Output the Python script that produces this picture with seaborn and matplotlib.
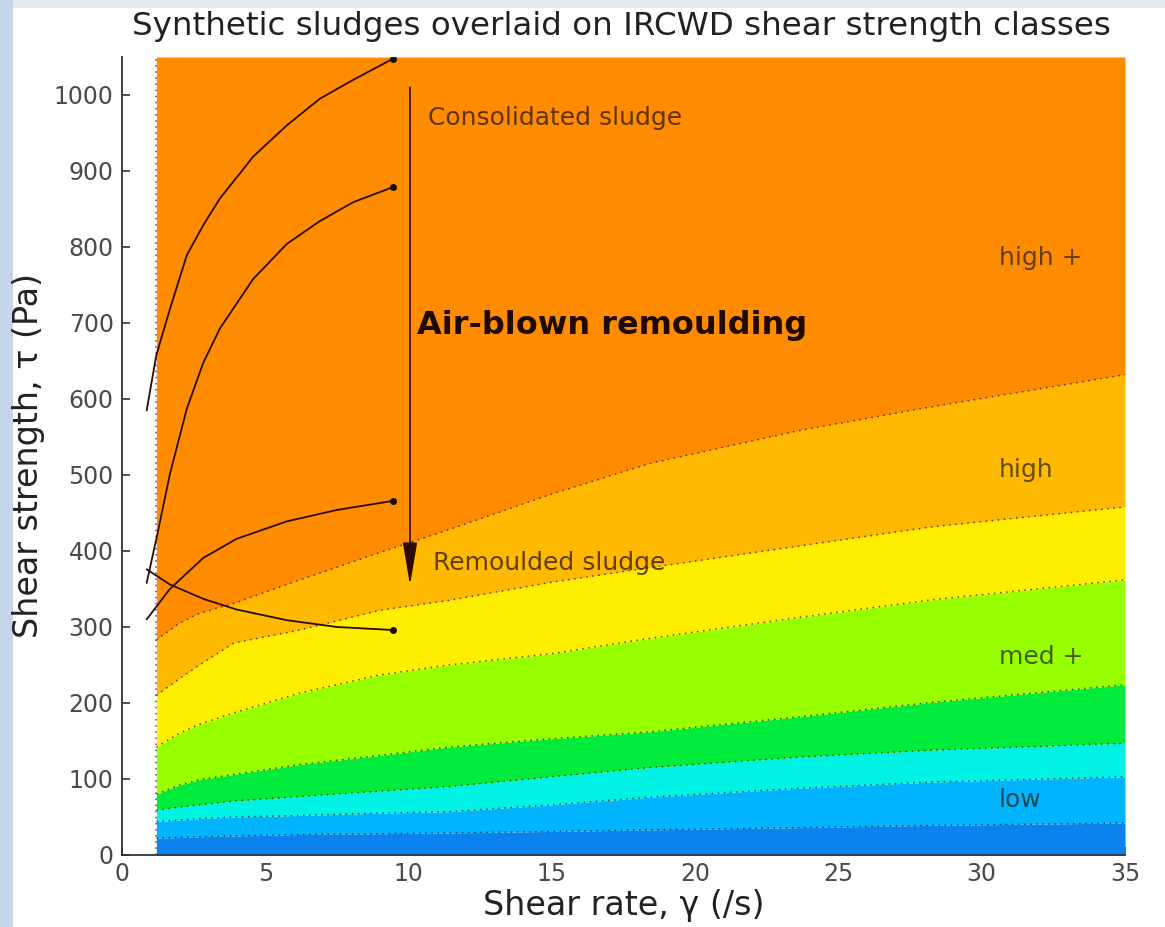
import matplotlib
matplotlib.use("Agg")
import matplotlib.pyplot as plt
from matplotlib.patches import Rectangle, FancyArrowPatch
import seaborn as sns
import numpy as np

# ---- shear strength class boundaries (Pa) versus shear rate (/s) ----
rate_grid = [1.2, 2.0, 2.7, 3.9, 6.2, 9.0, 11.4, 15.0, 18.4, 23.7, 28.3, 35.0]
bound_low1 = [22, 23, 24, 25, 27, 28, 29, 31, 33, 36, 39, 42]
bound_low2 = [44, 46, 48, 50, 52, 55, 57, 66, 76, 88, 96, 103]
bound_med1 = [59, 63, 66, 71, 77, 84, 90, 103, 115, 129, 138, 147]
bound_med2 = [80, 92, 99, 106, 119, 131, 142, 153, 162, 182, 201, 224]
bound_medp = [142, 160, 172, 187, 213, 237, 250, 265, 285, 313, 336, 362]
bound_high = [210, 232, 250, 279, 296, 322, 335, 359, 378, 407, 432, 458]
bound_highp = [283, 305, 318, 331, 362, 398, 428, 475, 515, 559, 590, 632]
tau_max = 1050

band_colors = ["#0a82f0", "#00b4ff", "#00f2e4", "#00ec3c",
               "#96ff00", "#ffee00", "#ffb900", "#ff8c00"]
class_labels = ["low", "med +", "high", "high +"]
class_label_tau = [72, 260, 506, 785]

# ---- synthetic sludge flow curves ----
s1_rate = [0.86, 1.2, 1.67, 2.26, 2.84, 3.42, 4.58, 5.75, 6.9, 8.07, 9.47]
s1_tau = [585, 658, 718, 789, 829, 864, 919, 960, 995, 1020, 1048]
s2_rate = [0.86, 1.2, 1.67, 2.26, 2.84, 3.42, 4.58, 5.75, 6.9, 8.07, 9.47]
s2_tau = [358, 416, 501, 587, 648, 693, 758, 804, 834, 859, 879]
s3_rate = [0.86, 1.67, 2.84, 4.0, 5.75, 7.5, 9.47]
s3_tau = [310, 350, 391, 416, 439, 454, 466]
s4_rate = [0.86, 1.67, 2.84, 4.0, 5.75, 7.5, 9.47]
s4_tau = [376, 356, 337, 323, 309, 300, 296]

sns.set_theme(style="ticks")
plt.rcParams["font.family"] = ["DejaVu Sans"]

fig = plt.figure(figsize=(11.65, 9.27), dpi=100)
fig.patch.set_facecolor("#e2e9f3")
fig.add_artist(Rectangle((0, 0), 13 / 1165, 1, transform=fig.transFigure,
                         facecolor="#c6d5ea", edgecolor="none", zorder=-11))
fig.add_artist(Rectangle((13 / 1165, 0), 1, (927 - 8) / 927,
                         transform=fig.transFigure, facecolor="white",
                         edgecolor="none", zorder=-10))

ax = fig.add_axes([122 / 1165, 72 / 927, 1003 / 1165, 798 / 927])
ax.set_facecolor("none")

x = np.array(rate_grid)
bounds = [np.zeros_like(x), np.array(bound_low1), np.array(bound_low2),
          np.array(bound_med1), np.array(bound_med2), np.array(bound_medp),
          np.array(bound_high), np.array(bound_highp),
          np.full_like(x, tau_max, dtype=float)]
for i, col in enumerate(band_colors):
    ax.fill_between(x, bounds[i], bounds[i + 1], color=col, lw=0, zorder=1)

# dotted contour lines between classes
for b in bounds[1:-1]:
    sns.lineplot(x=x, y=b, ax=ax, color="#2a1a05", lw=1.1, ls=(0, (1, 3)),
                 alpha=0.75, zorder=2, estimator=None, sort=False)
ax.plot([rate_grid[0]] * 2, [0, tau_max], color="#2a1a05", lw=1.1,
        ls=(0, (1, 3)), alpha=0.75, zorder=2)

# sludge curves with end points
for r, t in [(s1_rate, s1_tau), (s2_rate, s2_tau),
             (s3_rate, s3_tau), (s4_rate, s4_tau)]:
    sns.lineplot(x=r, y=t, ax=ax, color="#2a0c00", lw=1.3, zorder=4,
                 estimator=None, sort=False)
    ax.plot(r[-1], t[-1], "o", color="#1a0800", ms=4, zorder=5)

# remoulding arrow
ax.add_patch(FancyArrowPatch((10.05, 1010), (10.05, 355),
                             arrowstyle="-|>,head_length=1.9,head_width=0.32",
                             mutation_scale=14, color="#2a0c00", lw=1.2,
                             shrinkA=0, shrinkB=0, zorder=5))

txt_col = (0.18, 0.08, 0.0, 0.75)
ax.text(10.67, 970, "Consolidated sludge", fontsize=18, color=txt_col,
        va="center", ha="left", zorder=6)
ax.text(10.3, 697, "Air-blown remoulding", fontsize=23, fontweight="bold",
        color="#1e0a00", va="center", ha="left", zorder=6)
ax.text(10.85, 384, "Remoulded sludge", fontsize=18, color=txt_col,
        va="center", ha="left", zorder=6)
for lab, tv in zip(class_labels, class_label_tau):
    ax.text(30.6, tv, lab, fontsize=18, color=(0.15, 0.1, 0.05, 0.7),
            va="center", ha="left", zorder=6)

ax.set_xlim(0, 35)
ax.set_ylim(0, tau_max)
ax.set_xticks(range(0, 36, 5))
ax.set_yticks(range(0, 1001, 100))
ax.set_axisbelow(True)
ax.tick_params(direction="in", length=6, width=1.2, colors="#333333",
               labelsize=17, labelcolor="#4a4a4a")
ax.tick_params(axis="y", pad=6)
ax.tick_params(axis="x", pad=5)
sns.despine(ax=ax)
for s in ("left", "bottom"):
    ax.spines[s].set_color("#333333")
    ax.spines[s].set_linewidth(1.3)

ax.set_xlabel("Shear rate, γ (/s)", fontsize=24, color="#222222", labelpad=2)
ax.set_ylabel("Shear strength, τ (Pa)", fontsize=24, color="#222222",
              labelpad=6)
fig.text(621 / 1165, 1 - 27 / 927,
         "Synthetic sludges overlaid on IRCWD shear strength classes",
         ha="center", va="center", fontsize=23.4, color="#222222")

fig.savefig("out.png", dpi=100, facecolor=fig.get_facecolor())
